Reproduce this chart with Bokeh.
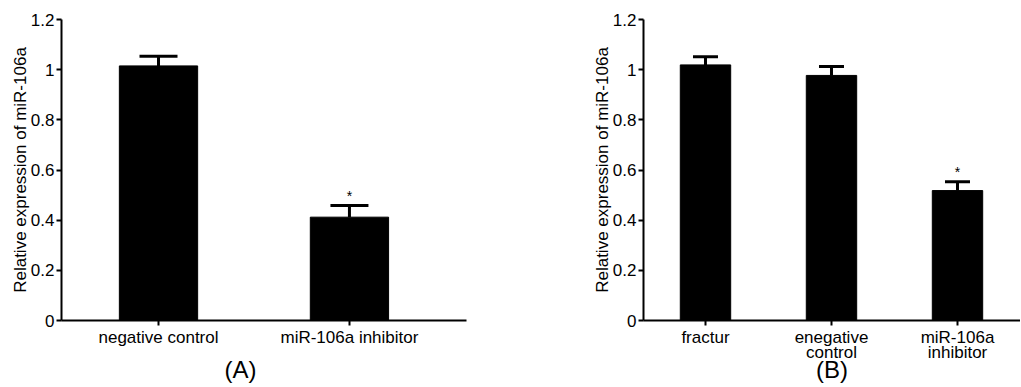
from bokeh.plotting import figure
from bokeh.layouts import row
from bokeh.models import FixedTicker, Range1d, Whisker, TeeHead, ColumnDataSource, Title
from bokeh.embed import file_html
from bokeh.resources import INLINE

# Panel A data
a_categories = ["negative control", "miR-106a inhibitor"]
a_values = [1.015, 0.412]
a_errors = [0.038, 0.046]
a_sig = ["", "*"]

# Panel B data
b_categories = ["fractur", "enegative\ncontrol", "miR-106a\ninhibitor"]
b_values = [1.019, 0.977, 0.518]
b_errors = [0.032, 0.036, 0.035]
b_sig = ["", "", "*"]

y_ticks = [0, 0.2, 0.4, 0.6, 0.8, 1.0, 1.2]
y_tick_labels = {0: "0", 0.2: "0.2", 0.4: "0.4", 0.6: "0.6", 0.8: "0.8", 1.0: "1", 1.2: "1.2"}
y_label = "Relative expression of miR-106a"

FONT = "Liberation Sans"


def make_panel(cats, vals, errs, sig, width, x_range, bar_w, cap, b_left, b_right):
    xs = list(range(1, len(cats) + 1))
    p = figure(width=width, height=386, output_backend="svg", toolbar_location=None,
               x_range=Range1d(*x_range), y_range=Range1d(0, 1.2),
               min_border_left=b_left, min_border_right=b_right,
               min_border_top=19, min_border_bottom=64)
    p.outline_line_color = None
    p.grid.visible = False

    src = ColumnDataSource(dict(x=xs, top=vals, upper=[v + e for v, e in zip(vals, errs)],
                                sig=sig, sy=[v + e + 0.04 for v, e in zip(vals, errs)]))
    p.vbar(x="x", top="top", width=bar_w, source=src, fill_color="black", line_color="black")
    w = Whisker(base="x", lower="top", upper="upper", source=src,
                line_color="black", line_width=3,
                upper_head=TeeHead(size=cap, line_width=3, line_color="black"),
                lower_head=None)
    p.add_layout(w)
    p.text(x="x", y="sy", text="sig", source=src, text_align="center",
           text_baseline="middle", text_font_size="14px", text_color="black")

    for ax in (p.xaxis[0], p.yaxis[0]):
        ax.axis_line_width = 2
        ax.axis_line_color = "black"
        ax.major_tick_line_width = 2
        ax.major_tick_out = 5
        ax.major_tick_in = 0
        ax.minor_tick_line_color = None
        ax.major_label_text_font = FONT
        ax.major_label_text_font_size = "17px"
        ax.major_label_text_color = "black"
        ax.axis_label_text_color = "black"

    p.xaxis.ticker = FixedTicker(ticks=xs)
    p.xaxis.major_label_overrides = {x: c for x, c in zip(xs, cats)}
    p.xaxis.major_label_standoff = 2
    p.xaxis.major_label_text_line_height = 0.8

    p.yaxis.ticker = FixedTicker(ticks=y_ticks)
    p.yaxis.major_label_overrides = y_tick_labels
    p.yaxis.major_label_standoff = 2
    p.yaxis.axis_label = y_label
    p.yaxis.axis_label_text_font = FONT
    p.yaxis.axis_label_text_font_size = "17px"
    p.yaxis.axis_label_text_font_style = "normal"
    p.yaxis.axis_label_standoff = -2
    return p


pa = make_panel(a_categories, a_values, a_errors, a_sig, 567, (0.492, 2.613), 0.41, 38, 61, 101)
pa.add_layout(Title(text="(A)", align="left", offset=163, text_font=FONT, text_color="black",
                    text_font_size="24px", text_font_style="normal", standoff=8), "below")

pb = make_panel(b_categories, b_values, b_errors, b_sig, 453, (0.508, 3.5), 0.4, 25, 76, 0)
pb.xaxis.axis_label = "(B)"
pb.xaxis.axis_label_text_font = FONT
pb.xaxis.axis_label_text_font_size = "24px"
pb.xaxis.axis_label_text_font_style = "normal"
pb.xaxis.axis_label_standoff = -9

layout = row(pa, pb)
open("out.html", "w").write(file_html(layout, INLINE))
